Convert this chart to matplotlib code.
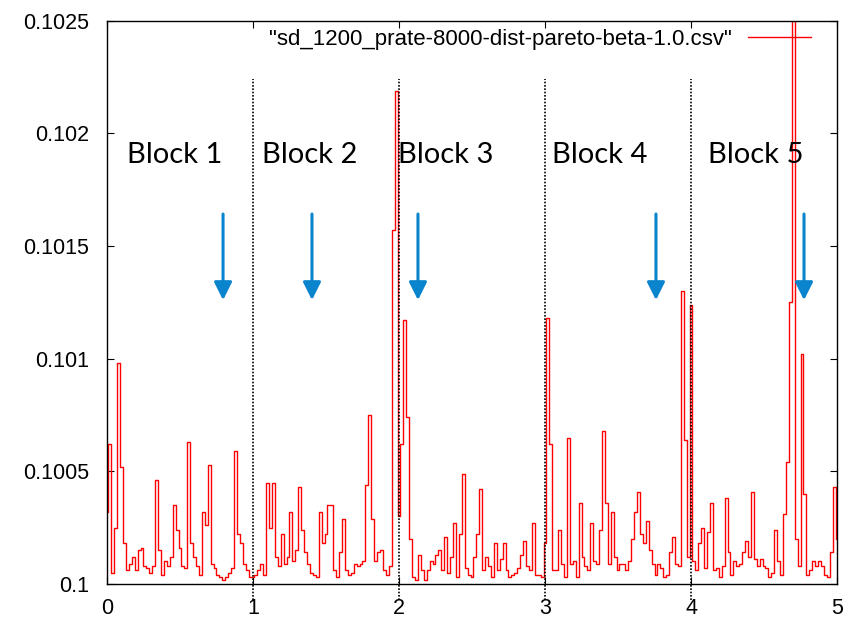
import numpy as np
import matplotlib
matplotlib.use("Agg")
from matplotlib import pyplot as plt

plt.rcParams['font.family'] = ['Liberation Sans', 'DejaVu Sans']

# height above 0.1, in units of 1e-5, one value every 0.02 on x
block1 = [32, 62, 5, 25, 98, 52, 18, 6, 9, 12, 6, 15, 16, 8, 7, 5, 8, 46, 15, 4,
          10, 8, 12, 35, 24, 16, 8, 7, 63, 18, 12, 8, 4, 32, 26, 53, 9, 7, 4, 3,
          2, 3, 5, 7, 59, 22, 18, 9, 6, 3]
block2 = [3, 4, 6, 9, 4, 45, 25, 45, 12, 8, 22, 9, 12, 32, 10, 15, 43, 24, 14, 9,
          5, 4, 3, 32, 18, 22, 35, 35, 6, 3, 14, 29, 6, 4, 5, 9, 8, 9, 10, 44,
          75, 29, 10, 14, 15, 6, 4, 8, 157, 219]
block3 = [30, 62, 117, 74, 20, 3, 2, 13, 6, 2, 6, 10, 9, 13, 15, 6, 21, 5, 12, 27,
          3, 22, 49, 7, 4, 3, 12, 22, 42, 6, 12, 8, 3, 18, 6, 11, 18, 6, 3, 4,
          5, 7, 13, 19, 8, 6, 27, 4, 4, 3]
block4 = [18, 118, 62, 6, 6, 24, 9, 3, 65, 9, 10, 3, 36, 12, 8, 6, 27, 10, 9, 24,
          68, 36, 9, 32, 12, 6, 9, 9, 6, 10, 20, 32, 41, 22, 18, 28, 15, 9, 4, 9,
          7, 3, 4, 14, 21, 9, 8, 130, 64, 12]
block5 = [124, 10, 6, 18, 25, 7, 23, 36, 6, 7, 3, 8, 38, 14, 4, 10, 8, 9, 14, 19,
          12, 41, 11, 8, 11, 8, 7, 3, 5, 24, 10, 4, 31, 54, 125, 300, 20, 8, 102, 40,
          4, 6, 10, 8, 10, 8, 4, 3, 14, 43, 20]

block_names = ["Block 1", "Block 2", "Block 3", "Block 4", "Block 5"]
block_text_x = [0.137, 1.062, 1.993, 3.048, 4.116]
arrow_x = [0.795, 1.404, 2.130, 3.760, 4.774]
yticks = [0.1, 0.1005, 0.101, 0.1015, 0.102, 0.1025]
ytick_labels = ["0.1", "0.1005", "0.101", "0.1015", "0.102", "0.1025"]

offsets = np.array(block1 + block2 + block3 + block4 + block5, dtype=float)
y = 0.1 + offsets * 1e-5
x = np.arange(len(y)) * 0.02

fig = plt.figure(figsize=(8.43, 6.18), dpi=100)
ax = fig.add_axes([0.1269, 0.055, 0.8660, 0.9115])

ax.plot(x, y, color='#ff0000', lw=1.0, drawstyle='steps-mid',
        label='"sd_1200_prate-8000-dist-pareto-beta-1.0.csv"')

ax.set_xlim(0, 5)
ax.set_ylim(0.1, 0.1025)
ax.set_xticks(range(6))
ax.set_yticks(yticks)
ax.set_yticklabels(ytick_labels)
ax.tick_params(direction='in', top=True, right=True, length=5, width=0.8,
               labelsize=15.5, colors='black')
ax.tick_params(axis='y', pad=13)
ax.tick_params(axis='x', pad=10)
for s in ax.spines.values():
    s.set_linewidth(1.0)

# block separators
for b in [1, 2, 3, 4]:
    ax.plot([b, b], [0.09993, 0.10224], color='black', lw=1.2,
            linestyle=(0, (1, 1)), clip_on=False)

for name, tx in zip(block_names, block_text_x):
    ax.text(tx, 0.101868, name, fontsize=21, family=['Lato', 'DejaVu Sans'],
            va='baseline', ha='left', color='black')

for ax_x in arrow_x:
    ax.annotate('', xy=(ax_x, 0.10126), xytext=(ax_x, 0.101642),
                arrowprops=dict(arrowstyle='-|>,head_length=0.4,head_width=0.2',
                                mutation_scale=27, color='#0a84cc', lw=2.2,
                                shrinkA=0, shrinkB=0))

ax.legend(loc='center right', bbox_to_anchor=(0.9644, 0.9675), frameon=False,
          markerfirst=False, fontsize=16, handlelength=2.85, handletextpad=0.7,
          borderpad=0, borderaxespad=0)

fig.savefig("out.png", dpi=100)
